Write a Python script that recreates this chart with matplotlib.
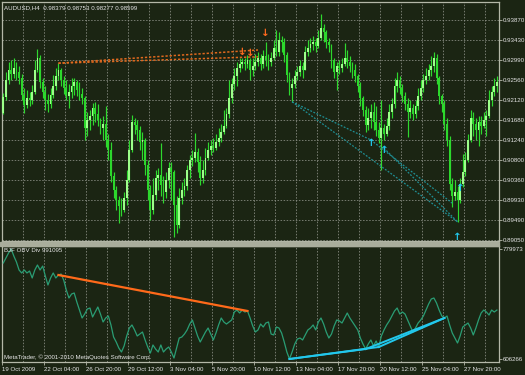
import matplotlib
matplotlib.use("Agg")
import matplotlib.pyplot as plt
from matplotlib import font_manager
from matplotlib.patches import Rectangle

# ---------------- data ----------------
first_open = 0.9183
close = [0.9219,0.9256,0.9278,0.9269,0.9282,0.9274,0.9260,0.9223,0.9201,0.9216,
         0.9212,0.9230,0.9278,0.9304,0.9252,0.9230,0.9212,0.9203,0.9223,0.9243,
         0.9265,0.9278,0.9256,0.9238,0.9221,0.9230,0.9243,0.9252,0.9234,0.9225,
         0.9216,0.9150,0.9168,0.9177,0.9194,0.9181,0.9168,0.9150,0.9159,0.9124,
         0.9102,0.9045,0.9014,0.8992,0.8979,0.8970,0.8996,0.9036,0.9102,0.9164,
         0.9157,0.9146,0.9120,0.9124,0.9069,0.9014,0.8970,0.9003,0.9040,0.9047,
         0.9025,0.9010,0.9036,0.9062,0.9054,0.8981,0.8937,0.8996,0.9014,0.9023,
         0.9058,0.9080,0.9084,0.9098,0.9076,0.9040,0.9058,0.9084,0.9102,0.9111,
         0.9106,0.9120,0.9128,0.9142,0.9155,0.9181,0.9216,0.9247,0.9265,0.9282,
         0.9291,0.9296,0.9291,0.9300,0.9278,0.9287,0.9296,0.9304,0.9291,0.9309,
         0.9300,0.9296,0.9304,0.9326,0.9318,0.9344,0.9340,0.9311,0.9267,0.9238,
         0.9247,0.9265,0.9274,0.9287,0.9278,0.9318,0.9326,0.9335,0.9340,0.9331,
         0.9348,0.9370,0.9362,0.9340,0.9333,0.9300,0.9274,0.9287,0.9282,0.9291,
         0.9304,0.9296,0.9287,0.9278,0.9265,0.9243,0.9216,0.9190,0.9157,0.9172,
         0.9186,0.9164,0.9146,0.9128,0.9150,0.9137,0.9155,0.9186,0.9203,0.9243,
         0.9256,0.9238,0.9221,0.9203,0.9186,0.9194,0.9181,0.9199,0.9221,0.9238,
         0.9256,0.9265,0.9278,0.9287,0.9304,0.9260,0.9221,0.9203,0.9159,0.9124,
         0.9027,0.9001,0.9010,0.8992,0.9027,0.9054,0.9080,0.9124,0.9172,0.9159,
         0.9146,0.9164,0.9155,0.9168,0.9177,0.9212,0.9230,0.9243,0.9252]
high = [0.9227,0.9274,0.9296,0.9300,0.9304,0.9296,0.9287,0.9269,0.9238,0.9234,
        0.9230,0.9245,0.9300,0.9324,0.9311,0.9260,0.9243,0.9225,0.9238,0.9267,
        0.9282,0.9293,0.9282,0.9265,0.9256,0.9247,0.9260,0.9260,0.9256,0.9252,
        0.9238,0.9221,0.9186,0.9190,0.9205,0.9208,0.9203,0.9172,0.9177,0.9199,
        0.9137,0.9120,0.9054,0.9023,0.9001,0.8996,0.9010,0.9058,0.9124,0.9179,
        0.9172,0.9168,0.9155,0.9142,0.9128,0.9080,0.9025,0.9040,0.9058,0.9062,
        0.9117,0.9045,0.9054,0.9076,0.9076,0.9058,0.9001,0.9018,0.9032,0.9040,
        0.9069,0.9091,0.9102,0.9139,0.9106,0.9089,0.9080,0.9106,0.9120,0.9124,
        0.9128,0.9137,0.9150,0.9159,0.9190,0.9194,0.9256,0.9260,0.9282,0.9296,
        0.9304,0.9304,0.9304,0.9311,0.9304,0.9304,0.9313,0.9318,0.9313,0.9322,
        0.9340,0.9313,0.9318,0.9344,0.9366,0.9362,0.9353,0.9348,0.9318,0.9274,
        0.9260,0.9278,0.9287,0.9300,0.9296,0.9331,0.9344,0.9348,0.9353,0.9348,
        0.9366,0.9401,0.9379,0.9366,0.9348,0.9335,0.9304,0.9296,0.9300,0.9304,
        0.9337,0.9322,0.9309,0.9296,0.9291,0.9269,0.9252,0.9221,0.9199,0.9194,
        0.9203,0.9208,0.9199,0.9164,0.9212,0.9159,0.9172,0.9203,0.9216,0.9260,
        0.9274,0.9265,0.9247,0.9230,0.9216,0.9212,0.9203,0.9212,0.9238,0.9256,
        0.9269,0.9282,0.9291,0.9309,0.9318,0.9313,0.9265,0.9225,0.9212,0.9172,
        0.9133,0.9040,0.9036,0.9023,0.9040,0.9093,0.9098,0.9137,0.9190,0.9186,
        0.9172,0.9177,0.9177,0.9186,0.9190,0.9234,0.9243,0.9260,0.9265]
low = [0.9181,0.9212,0.9247,0.9256,0.9260,0.9256,0.9247,0.9212,0.9183,0.9194,
       0.9199,0.9203,0.9225,0.9274,0.9238,0.9216,0.9190,0.9186,0.9194,0.9216,
       0.9234,0.9256,0.9243,0.9225,0.9212,0.9194,0.9216,0.9223,0.9221,0.9212,
       0.9203,0.9124,0.9133,0.9146,0.9157,0.9164,0.9155,0.9137,0.9124,0.9109,
       0.9080,0.9032,0.8996,0.8970,0.8941,0.8957,0.8966,0.8981,0.9032,0.9098,
       0.9137,0.9124,0.9102,0.9080,0.9047,0.8992,0.8948,0.8961,0.8992,0.9014,
       0.9001,0.8985,0.8996,0.9018,0.8992,0.8911,0.8919,0.8930,0.8983,0.9001,
       0.9014,0.9040,0.9067,0.9076,0.9054,0.9025,0.9029,0.9047,0.9080,0.9091,
       0.9098,0.9102,0.9111,0.9120,0.9137,0.9150,0.9172,0.9205,0.9234,0.9243,
       0.9274,0.9282,0.9278,0.9282,0.9256,0.9265,0.9278,0.9287,0.9278,0.9282,
       0.9287,0.9278,0.9287,0.9300,0.9309,0.9309,0.9318,0.9296,0.9252,0.9223,
       0.9208,0.9238,0.9256,0.9265,0.9260,0.9278,0.9309,0.9318,0.9322,0.9318,
       0.9326,0.9344,0.9340,0.9326,0.9318,0.9282,0.9260,0.9234,0.9269,0.9274,
       0.9287,0.9282,0.9274,0.9260,0.9252,0.9230,0.9199,0.9177,0.9142,0.9146,
       0.9150,0.9146,0.9133,0.9117,0.9058,0.9124,0.9133,0.9146,0.9172,0.9194,
       0.9230,0.9225,0.9208,0.9190,0.9131,0.9172,0.9168,0.9172,0.9190,0.9212,
       0.9230,0.9247,0.9256,0.9265,0.9274,0.9247,0.9203,0.9186,0.9146,0.9111,
       0.9014,0.8977,0.8992,0.8944,0.8985,0.9020,0.9045,0.9076,0.9120,0.9133,
       0.9124,0.9111,0.9137,0.9150,0.9133,0.9172,0.9199,0.9221,0.9230]
obv = [757900,765800,773700,779973,768900,759400,746800,742100,746800,742100,
       745200,734200,746800,754700,746800,753100,737300,723100,734200,742100,
       734200,738900,740500,731000,715200,702600,708900,710500,696300,683600,
       671000,677300,685200,686800,672600,680500,688400,677300,664700,671000,
       674200,660000,641000,633100,623600,617300,626800,642600,655200,660000,
       652100,642600,645700,648900,636300,625200,615700,628400,622000,617300,
       628400,617300,622000,625200,617300,607800,623600,639400,641000,645700,
       652100,661500,667900,655200,642600,633100,641000,648900,655200,645700,
       636300,647300,660000,671000,664700,661500,664700,667900,680500,683600,
       678900,683600,680500,682100,671000,658400,648900,652100,661500,656800,
       663100,664700,645700,644200,656800,655200,647300,633100,617300,606266,
       617300,629900,637800,639400,636300,644200,652100,655200,660000,652100,
       664700,671000,661500,648900,639400,645700,658400,667900,666300,663100,
       671000,678900,671000,664700,658400,652100,639400,629900,622000,629900,
       636300,626800,634700,625200,642600,652100,660000,666300,674200,682100,
       686800,677300,680500,677300,667900,658400,648900,655200,663100,667900,
       674200,683600,693100,701000,702600,694700,683600,674200,671000,674200,
       660000,647300,639400,631500,642600,656800,660000,663100,655200,644200,
       655200,667900,678900,683600,680500,675700,683600,680500,683600]

price_ticks = [0.93870,0.93430,0.92990,0.92560,0.92120,0.91680,
               0.91240,0.90800,0.90360,0.89930,0.89490,0.89050]
obv_ticks = [779973, 606266]
time_labels = ["19 Oct 2009","22 Oct 04:00","26 Oct 20:00","29 Oct 12:00",
               "3 Nov 04:00","5 Nov 20:00","10 Nov 12:00","13 Nov 04:00",
               "17 Nov 20:00","20 Nov 12:00","25 Nov 04:00","27 Nov 20:00"]
bars_per_label = 16
bars_per_grid = 8

# divergence markers (bar index, price)
sell_arrows_bar = [91, 94, 100]
sell_arrows_price = [0.9318, 0.9315, 0.9359]
buy_arrows_bar = [140, 145, 173, 174]
buy_arrows_price = [0.9117, 0.9102, 0.8911, 0.9018]
# divergence trend lines on price (bar pairs, price pairs)
bear_lines_bars = [(21, 97), (21, 97)]
bear_lines_prices = [(0.9293, 0.9322), (0.9293, 0.9307)]
bull_lines_bars = [(110, 140), (110, 173), (140, 171), (145, 173)]
bull_lines_prices = [(0.9208, 0.9124), (0.9208, 0.8944), (0.9124, 0.8985), (0.9106, 0.8944)]
# divergence lines on OBV (bar pairs)
obv_bear_lines = [(21, 93)]
obv_bull_lines = [(109, 138), (109, 143), (138, 168), (143, 168)]

# ---------------- style ----------------
BG = "#1b2513"
GRID = "#8e9288"
FRAME = "#b4b8a8"
TXT = "#e6e6e6"
BULL = "#9dff8a"
BEAR = "#2cd82c"
WICK = "#2ed82e"
OBVC = "#2a9d74"

names = {f.name for f in font_manager.fontManager.ttflist}
FONT = "Liberation Sans Narrow" if "Liberation Sans Narrow" in names else "Liberation Sans"
FS = 5.2 if FONT == "Liberation Sans Narrow" else 4.4

W, H = 525, 375
fig = plt.figure(figsize=(W / 100, H / 100), dpi=100, facecolor=BG)
ax1 = fig.add_axes([2 / W, (H - 241) / H, 497 / W, 239 / H], facecolor=BG)
ax2 = fig.add_axes([2 / W, (H - 362) / H, 497 / W, 116 / H], facecolor=BG)
fig.patches.append(Rectangle((0, (H - 246) / H), 499 / W, 4.5 / H,
                             transform=fig.transFigure, color="#a9ad9c", zorder=5))

n = len(close)
xs = list(range(n))
opens = [first_open] + close[:-1]

# candles
ax1.vlines(xs, low, high, color=WICK, lw=0.85, zorder=3)
for i in range(n):
    o, c = opens[i], close[i]
    bottom = min(o, c)
    h = max(abs(c - o), 0.00006)
    ax1.bar(i, h, bottom=bottom, width=0.7, color=BULL if c >= o else BEAR,
            linewidth=0, zorder=4)

xmin, xmax = -0.5, 188.8
ax1.set_xlim(xmin, xmax)
ax1.set_ylim(0.89018, 0.94276)
ax2.set_xlim(xmin, xmax)
ax2.set_ylim(601529, 784710)

grid_x = [k * bars_per_grid - 0.5 for k in range(1, 24)]
for ax in (ax1, ax2):
    for gx in grid_x:
        ax.axvline(gx, color=GRID, lw=0.55, ls=(0, (2, 2)), zorder=1)
    for s in ax.spines.values():
        s.set_color(FRAME)
        s.set_linewidth(0.9)
for py in price_ticks:
    ax1.axhline(py, color=GRID, lw=0.55, ls=(0, (2, 2)), zorder=1)

# divergence lines on price
for (b0, b1), (p0, p1) in zip(bear_lines_bars, bear_lines_prices):
    ax1.plot([b0, b1], [p0, p1], color="#e0691e", lw=1.1, ls=(0, (1.5, 1.2)), zorder=5)
for (b0, b1), (p0, p1) in zip(bull_lines_bars, bull_lines_prices):
    ax1.plot([b0, b1], [p0, p1], color="#1f8e93", lw=0.9, ls=(0, (1.5, 1.2)), zorder=5)

for b, p in zip(sell_arrows_bar, sell_arrows_price):
    ax1.text(b, p, "\u2193", color="#ff6a1f", fontsize=7.5, fontweight="bold",
             family="DejaVu Sans", ha="center", va="center", zorder=6)
for b, p in zip(buy_arrows_bar, buy_arrows_price):
    ax1.text(b, p, "\u2191", color="#22c8ec", fontsize=7.5, fontweight="bold",
             family="DejaVu Sans", ha="center", va="center", zorder=6)

# OBV panel
ax2.plot(xs, obv, color=OBVC, lw=0.9, zorder=3)
for b0, b1 in obv_bear_lines:
    ax2.plot([b0, b1], [obv[b0], obv[b1]], color="#ff6a1a", lw=1.6, zorder=4)
for b0, b1 in obv_bull_lines:
    ax2.plot([b0, b1], [obv[b0], obv[b1]], color="#22c8ec", lw=1.4, zorder=4)

# ticks
ax1.yaxis.tick_right()
ax1.set_yticks(price_ticks)
ax1.set_yticklabels([f"{p:.5f}" for p in price_ticks])
ax1.set_xticks([])
ax1.tick_params(axis="y", colors=FRAME, labelcolor=TXT, length=2.0, width=0.6,
                pad=0.8, labelsize=FS)

ax2.yaxis.tick_right()
ax2.set_yticks(obv_ticks)
ax2.set_yticklabels([str(v) for v in obv_ticks])
ax2.tick_params(axis="y", colors=FRAME, labelcolor=TXT, length=2.0, width=0.6,
                pad=0.8, labelsize=FS)
label_pos = [k * bars_per_label - 0.5 for k in range(len(time_labels))]
ax2.set_xticks(label_pos)
ax2.set_xticklabels(time_labels, ha="left")
ax2.tick_params(axis="x", colors=FRAME, labelcolor=TXT, length=2.5, width=0.6,
                pad=1.0, labelsize=FS)
for lab in ax1.get_yticklabels() + ax2.get_yticklabels() + ax2.get_xticklabels():
    lab.set_family(FONT)

# texts
fig.text(4 / W, 1 - 8 / H, "AUDUSD,H4  0.98379 0.98753 0.98277 0.98599",
         color=TXT, fontsize=FS, family=FONT, va="center", ha="left")
fig.text(4 / W, 1 - 250 / H, "BJF OBV Div 991095",
         color=TXT, fontsize=FS, family=FONT, va="center", ha="left")
fig.text(4 / W, 1 - 357 / H, "MetaTrader, \u00a9 2001-2010 MetaQuotes Software Corp.",
         color=TXT, fontsize=FS, family=FONT, va="center", ha="left")

fig.savefig("out.png", dpi=100, facecolor=BG)
